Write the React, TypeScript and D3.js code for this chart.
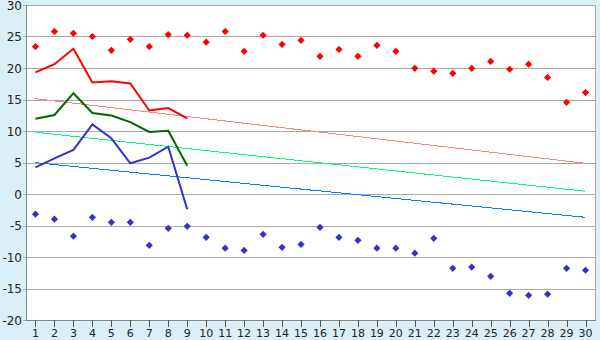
import React from "react";
import * as d3 from "d3";

const categories = Array.from({ length: 30 }, (_, i) => String(i + 1));
const yTicks = [-20, -15, -10, -5, 0, 5, 10, 15, 20, 25, 30];

const redPoints = [23.4, 25.8, 25.5, 25.0, 22.8, 24.55, 23.4, 25.3, 25.2, 24.1, 25.8, 22.65, 25.2, 23.75, 24.4, 21.85, 22.95, 21.85, 23.6, 22.65, 19.95, 19.5, 19.15, 19.95, 21.05, 19.8, 20.6, 18.5, 14.55, 16.1];
const bluePoints = [-3.2, -4.0, -6.7, -3.7, -4.5, -4.5, -8.15, -5.45, -5.13, -6.87, -8.6, -8.95, -6.4, -8.46, -8.0, -5.29, -6.87, -7.35, -8.6, -8.6, -9.4, -7.03, -11.8, -11.6, -13.06, -15.77, -16.08, -15.9, -11.8, -12.1];
const redLine = [19.3, 20.6, 23.07, 17.7, 17.9, 17.55, 13.25, 13.65, 12.0];
const greenLine = [11.95, 12.54, 16.0, 12.86, 12.45, 11.4, 9.84, 10.05, 4.5];
const blueLine = [4.23, 5.66, 7.0, 11.06, 8.84, 4.87, 5.77, 7.5, -2.43];
// trend lines: [value at first category, value at last category]
const pinkTrend = [15.13, 4.87];
const greenTrend = [9.8, 0.43];
const blueTrend = [4.97, -3.7];

const W = 600, H = 340;
const L = 26, R = 595, T = 5, B = 320;

export default function App() {
  const x = d3.scaleBand<string>().domain(categories).range([L, R]);
  const cx = (c: string) => (x(c) as number) + x.bandwidth() / 2;
  const y = d3.scaleLinear().domain([-20, 30]).range([B, T]);

  const line = d3
    .line<number>()
    .x((_, i) => cx(categories[i]))
    .y((d) => y(d));

  const trend = (t: number[]) =>
    d3.line<[string, number]>()
      .x((d) => cx(d[0]))
      .y((d) => y(d[1]))([
        [categories[0], t[0]],
        [categories[categories.length - 1], t[1]],
      ]) as string;

  const diamond = (px: number, py: number, r = 3.6) =>
    `M${px},${py - r}L${px + r},${py}L${px},${py + r}L${px - r},${py}Z`;

  return (
    <svg
      width={W}
      height={H}
      style={{ position: "absolute", left: 0, top: 0, display: "block" }}
      fontFamily="DejaVu Sans, Verdana, sans-serif"
    >
      <rect x={0} y={0} width={W} height={H} fill="#d9f0f7" />
      <rect x={L} y={T} width={R - L} height={B - T} fill="#ffffff" />
      {yTicks.map((t) => (
        <g key={t}>
          <line x1={L - 3} x2={R} y1={Math.round(y(t)) + 0.5} y2={Math.round(y(t)) + 0.5} stroke="#aaaaaa" strokeWidth={1} />
          <text x={22} y={y(t) + 4.5} textAnchor="end" fontSize={12} fill="#222">
            {t}
          </text>
        </g>
      ))}
      <line x1={R + 0.5} x2={R + 0.5} y1={T} y2={B} stroke="#aaaaaa" />
      <line x1={L + 0.5} x2={L + 0.5} y1={T} y2={B + 1} stroke="#888888" />
      <line x1={L} x2={R + 1} y1={B + 0.5} y2={B + 0.5} stroke="#888888" />
      {categories.map((c) => (
        <g key={c}>
          <line x1={Math.round(cx(c)) + 0.5} x2={Math.round(cx(c)) + 0.5} y1={B} y2={B + 7} stroke="#555" />
          <text x={cx(c)} y={337} textAnchor="middle" fontSize={11} fill="#222">
            {c}
          </text>
        </g>
      ))}
      <path d={trend(pinkTrend)} fill="none" stroke="#ff8080" strokeWidth={1} shapeRendering="crispEdges" />
      <path d={trend(greenTrend)} fill="none" stroke="#00ff80" strokeWidth={1} shapeRendering="crispEdges" />
      <path d={trend(blueTrend)} fill="none" stroke="#0080ff" strokeWidth={1} shapeRendering="crispEdges" />
      <path d={line(redLine) as string} fill="none" stroke="#ff0000" strokeWidth={2} />
      <path d={line(greenLine) as string} fill="none" stroke="#006600" strokeWidth={2} />
      <path d={line(blueLine) as string} fill="none" stroke="#3333cc" strokeWidth={2} />
      {redPoints.map((v, i) => (
        <path key={"r" + i} d={diamond(cx(categories[i]), y(v))} fill="#ff0000" />
      ))}
      {bluePoints.map((v, i) => (
        <path key={"b" + i} d={diamond(cx(categories[i]), y(v))} fill="#3333cc" />
      ))}
    </svg>
  );
}
